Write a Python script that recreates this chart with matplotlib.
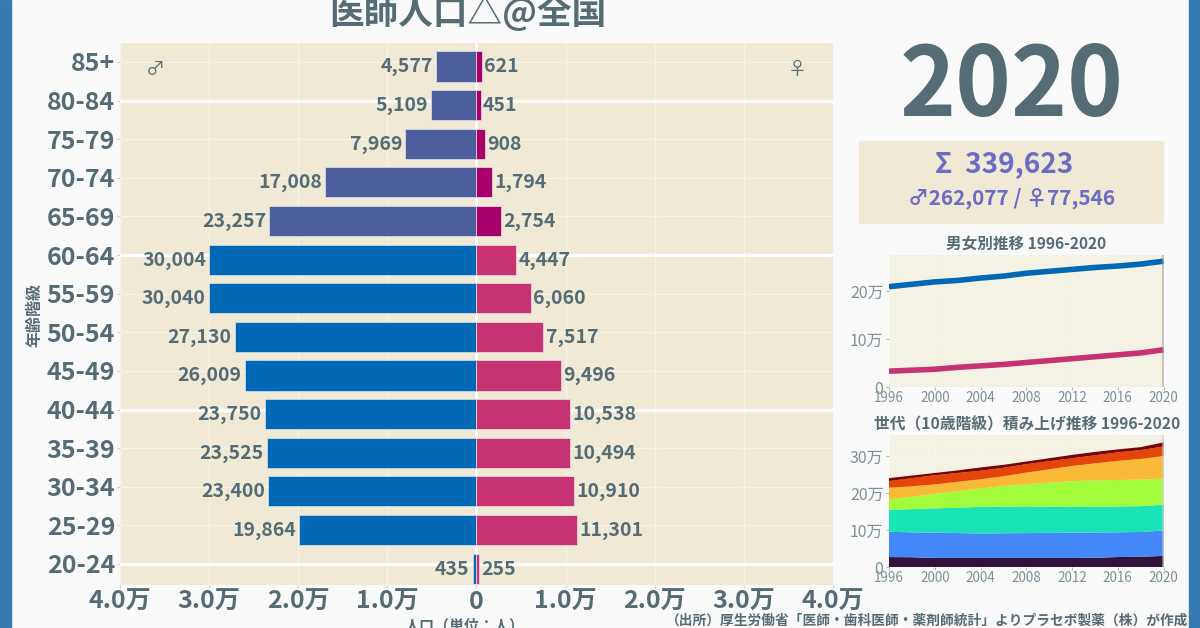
import matplotlib
matplotlib.use("Agg")
import matplotlib.pyplot as plt
from matplotlib.patches import Rectangle
import numpy as np

plt.rcParams['font.family'] = ['Noto Sans CJK JP', 'DejaVu Sans']

ages = ["20-24","25-29","30-34","35-39","40-44","45-49","50-54","55-59","60-64","65-69","70-74","75-79","80-84","85+"]
male = [435,19864,23400,23525,23750,26009,27130,30040,30004,23257,17008,7969,5109,4577]
female = [255,11301,10910,10494,10538,9496,7517,6060,4447,2754,1794,908,451,621]
x_ticks = [-40000,-30000,-20000,-10000,0,10000,20000,30000,40000]
x_tick_labels = ["4.0万","3.0万","2.0万","1.0万","0","1.0万","2.0万","3.0万","4.0万"]

years = [1996,1998,2000,2002,2004,2006,2008,2010,2012,2014,2016,2018,2020]
male_trend = [209000,214000,219000,222000,227000,231000,237000,241000,245000,249000,252000,256000,262077]
female_trend = [33000,35000,37000,41000,44000,47000,51000,55000,59000,63000,67000,71000,77546]

top_20s = [27000,26500,24500,24500,24500,24500,24500,24500,24500,25000,27000,28000,30000]
top_30s = [95500,94000,93000,92000,91000,91500,92000,92500,93000,93500,94000,95000,99000]
top_40s = [155000,157000,159000,161000,163000,163500,164000,163500,163000,163000,164000,165000,169000]
top_50s = [184000,191000,199000,206000,213000,220000,225000,229000,233000,235000,236000,237000,240000]
top_60s = [215000,219000,224000,231000,238000,246000,256000,265000,274000,281000,288000,293000,301000]
top_70s = [233000,241000,249000,255000,261000,269000,279000,287000,295000,303000,311000,317000,327000]
top_80s = [241000,248000,255000,262000,270000,277000,286000,295000,304000,312000,319000,325000,338000]
band_colors = ["#30123B","#4487F8","#1AE4B6","#A2FC3C","#FBB938","#E4460A","#7A0403"]

INK = "#566C75"
SOFT = "#7D9097"
PANEL = "#EFE9D6"
PANEL2 = "#F4F1E5"
PAGE = "#FAFAFA"
W, H = 1200, 628

def box(l, t, r, b):
    return [l / W, 1 - b / H, (r - l) / W, (b - t) / H]

def pt(px):
    return px * 0.72

fig = plt.figure(figsize=(12, 6.28), dpi=100, facecolor=PAGE)
fig.patches.append(Rectangle((0, 0), 11 / W, 1, transform=fig.transFigure, color="#3579B1"))
fig.patches.append(Rectangle((1189 / W, 0), 11 / W, 1, transform=fig.transFigure, color="#3579B1"))
fig.patches.append(Rectangle((859 / W, 1 - 223 / H), 304 / W, 82 / H, transform=fig.transFigure, color=PANEL))

# main pyramid
ax = fig.add_axes(box(120, 43, 833, 585), facecolor=PANEL)
pos = np.arange(len(ages))
offset = -0.12
male_c = ["#0068B4" if a < 9 else "#4C5F9C" for a in pos]
female_c = ["#C73372" if a < 9 else "#A8006B" for a in pos]
ax.barh(pos + offset, -np.array(male), height=0.78, color=male_c, edgecolor="#DDE3EE", linewidth=0.5, zorder=3)
ax.barh(pos + offset, female, height=0.78, color=female_c, edgecolor="#F3E3E8", linewidth=0.5, zorder=3)
ax.set_xlim(-40000, 40000)
ax.set_ylim(-0.544, 13.49)
ax.set_xticks(x_ticks)
ax.set_xticklabels(x_tick_labels, fontsize=pt(25), fontweight="bold", color=INK)
ax.set_yticks(pos)
ax.set_yticklabels(ages, fontsize=pt(25), fontweight="bold", color=INK)
ax.tick_params(axis="both", length=2.5, width=0.8, color="#C9D1D4", pad=1)
ax.grid(True, color="#F7F3E6", linewidth=1, zorder=1)
for a in ["20-24", "40-44", "60-64", "80-84"]:
    ax.axhline(ages.index(a), color="white", linewidth=2.4, zorder=2)
ax.axvline(0, color="white", linewidth=2, zorder=2)
for s in ax.spines.values():
    s.set_visible(False)
for i, (m, f) in enumerate(zip(male, female)):
    ax.text(-m - 350, i + offset - 0.01, f"{m:,}", ha="right", va="center", fontsize=pt(19.5), fontweight="bold", color=INK, zorder=4)
    ax.text(f + 250, i + offset - 0.01, f"{f:,}", ha="left", va="center", fontsize=pt(19.5), fontweight="bold", color=INK, zorder=4)
ax.text(-36000, 13 - 0.2, "♂", ha="center", va="center", fontsize=pt(19), color=INK)
ax.text(36000, 13 - 0.2, "♀", ha="center", va="center", fontsize=pt(19), color=INK)

def ftext(x, y, s, **kw):
    fig.text(x / W, 1 - y / H, s, **kw)

ftext(468, 13, "医師人口△@全国", ha="center", va="center", fontsize=pt(34.6), fontweight="bold", color=INK)
ftext(34, 315, "年齢階級", ha="center", va="center", rotation=90, fontsize=pt(16), fontweight="bold", color=INK)
ftext(465, 625, "人口（単位：人）", ha="center", va="center", fontsize=pt(15), fontweight="bold", color=INK)
ftext(1188, 621, "（出所）厚生労働省「医師・歯科医師・薬剤師統計」よりプラセボ製薬（株）が作成", ha="right", va="center", fontsize=pt(13.7), fontweight="bold", color=INK)
ftext(1012, 88, "2020", ha="center", va="center", fontsize=pt(95), fontweight="bold", color=INK)
ftext(1004, 165, "Σ  339,623", ha="center", va="center", fontsize=pt(28), fontweight="bold", color="#6D6CC4")
ftext(1012, 198, "♂262,077 / ♀77,546", ha="center", va="center", fontsize=pt(20.8), fontweight="bold", color="#6D6CC4")

def style_small(a, y_ticks, y_labels):
    a.set_xlim(1996, 2020)
    a.set_xticks(range(1996, 2021, 4))
    a.set_xticklabels([str(y) for y in range(1996, 2021, 4)], fontsize=pt(13.5), color=SOFT)
    a.set_yticks(y_ticks)
    a.set_yticklabels(y_labels, fontsize=pt(16), color=SOFT)
    a.tick_params(axis="x", length=2, width=0.7, color="#AAB6BA", pad=1)
    a.tick_params(axis="y", length=2, width=0.7, color="#AAB6BA", pad=2)
    a.grid(True, color="#FAF6E4", linewidth=0.8, zorder=1)
    a.set_axisbelow(True)
    for s in a.spines.values():
        s.set_visible(False)

a1 = fig.add_axes(box(889, 255, 1163.5, 387), facecolor=PANEL2)
a1.plot(years, male_trend, color="#0068B4", linewidth=4, zorder=3, solid_capstyle="butt")
a1.plot(years, female_trend, color="#C73372", linewidth=4, zorder=3, solid_capstyle="butt")
a1.set_ylim(0, 275000)
style_small(a1, [0, 100000, 200000], ["0", "10万", "20万"])
a1.axvline(2020, color="#9A9A90", alpha=0.5, linewidth=3, zorder=4)
ftext(1026.5, 244, "男女別推移 1996-2020", ha="center", va="center", fontsize=pt(15.6), fontweight="bold", color=INK)

a2 = fig.add_axes(box(889, 435, 1163.5, 567), facecolor=PANEL2)
tops = np.array([top_20s, top_30s, top_40s, top_50s, top_60s, top_70s, top_80s])
a2.stackplot(years, np.diff(tops, axis=0, prepend=0), colors=band_colors, linewidth=0, zorder=3)
a2.set_ylim(0, 358000)
style_small(a2, [0, 100000, 200000, 300000], ["0", "10万", "20万", "30万"])
a2.axvline(2020, color="#C9C9D0", alpha=0.5, linewidth=3, zorder=4)
ftext(1027, 424, "世代（10歳階級）積み上げ推移 1996-2020", ha="center", va="center", fontsize=pt(15.7), fontweight="bold", color=INK)

fig.savefig("out.png", dpi=100, facecolor=PAGE)
